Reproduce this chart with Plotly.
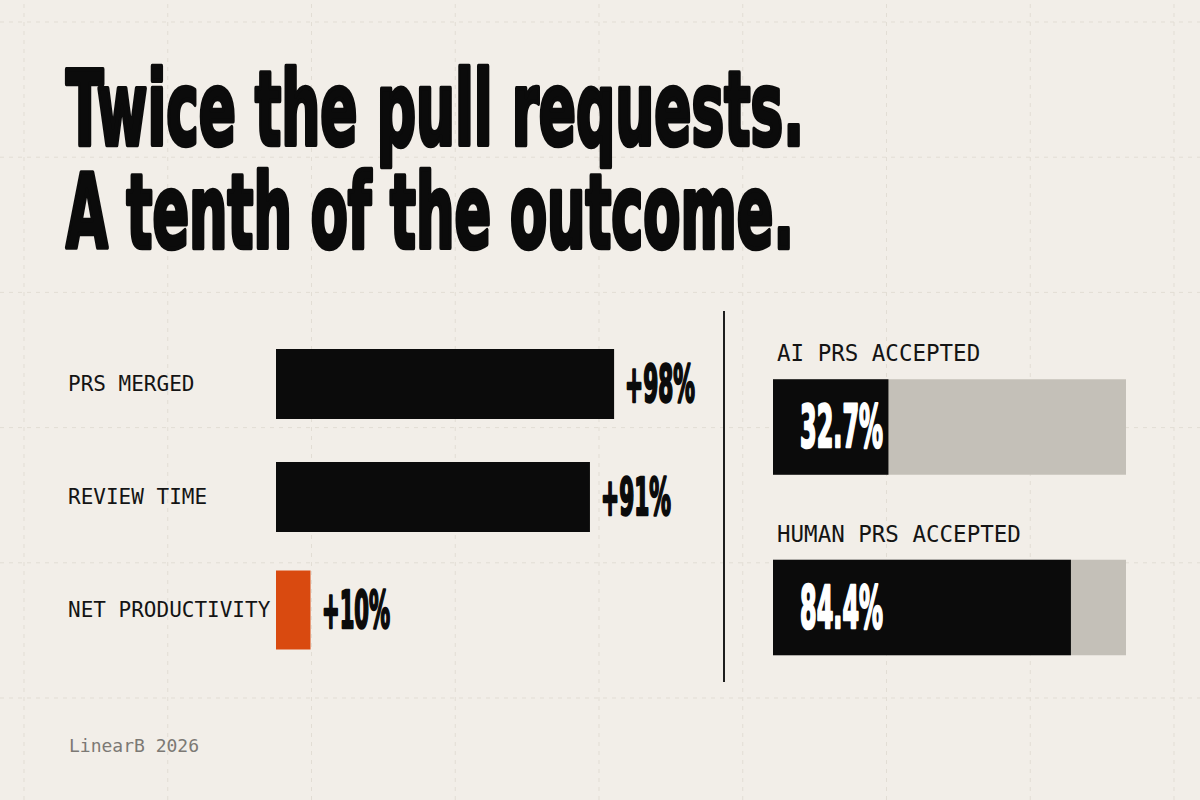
import json
import plotly.graph_objects as go

# ---------------- data ----------------
title_lines = ["Twice the pull requests.", "A tenth of the outcome."]

metrics = ["PRS MERGED", "REVIEW TIME", "NET PRODUCTIVITY"]
changes = [98, 91, 10]
change_labels = ["+98%", "+91%", "+10%"]
metric_colors = ["#0B0B0B", "#0B0B0B", "#D94A10"]

accept_groups = ["AI PRS ACCEPTED", "HUMAN PRS ACCEPTED"]
accept_rates = [32.7, 84.4]
accept_totals = [100, 100]
accept_labels = ["32.7%", "84.4%"]

source = "LinearB 2026"

# ---------------- style ----------------
W, H = 1200, 800
BG = "#F2EEE8"
INK = "#0B0B0B"
GREY = "#C4C0B8"
GRID = "#E2DDD4"
COND = "DejaVu Sans Condensed, DejaVu Sans, Liberation Sans, Arial"
MONO = "DejaVu Sans Mono, Liberation Mono, monospace"

TITLE_SIZE = 80
TITLE_YSCALE = 1.3
# condensed-display look: target advance widths (px)
title_widths = [738, 728]
title_centers = [118, 220]  # px from top
change_widths = [70, 70, 68]
accept_widths = [83, 83]


def px(x):
    return x / W


def py(y):
    return 1 - y / H


fig = go.Figure()

# left: change bars
fig.add_trace(go.Bar(
    x=changes, y=metrics, orientation="h",
    marker=dict(color=metric_colors, line=dict(width=0)),
    width=[0.62, 0.62, 0.70],
    xaxis="x", yaxis="y", hoverinfo="skip", showlegend=False,
))

# right: acceptance bars (track + value)
fig.add_trace(go.Bar(
    x=accept_totals, y=accept_groups, orientation="h",
    marker=dict(color=GREY, line=dict(width=0)), width=0.53,
    xaxis="x2", yaxis="y2", hoverinfo="skip", showlegend=False,
))
fig.add_trace(go.Bar(
    x=accept_rates, y=accept_groups, orientation="h",
    marker=dict(color=INK, line=dict(width=0)), width=0.53,
    xaxis="x2", yaxis="y2", hoverinfo="skip", showlegend=False,
))

ax_hidden = dict(visible=False, showgrid=False, zeroline=False, fixedrange=True)
fig.update_layout(
    width=W, height=H,
    margin=dict(l=0, r=0, t=0, b=0),
    paper_bgcolor=BG, plot_bgcolor="rgba(0,0,0,0)",
    barmode="overlay",
    xaxis=dict(domain=[px(276), px(676)], range=[0, 400 / 3.45], **ax_hidden),
    yaxis=dict(domain=[py(666.5), py(327.5)], type="category",
               categoryorder="array", categoryarray=metrics,
               range=[2.5, -0.5], **ax_hidden),
    xaxis2=dict(domain=[px(773), px(1126)], range=[0, 100], anchor="y2", **ax_hidden),
    yaxis2=dict(domain=[py(697.75), py(336.75)], type="category",
                categoryorder="array", categoryarray=accept_groups,
                range=[1.5, -0.5], anchor="x2", **ax_hidden),
)

shapes = []
# faint dashed background grid
for k in range(9):
    gx = 24 + 143.75 * k
    shapes.append(dict(type="line", xref="paper", yref="paper",
                       x0=px(gx), x1=px(gx), y0=0, y1=1,
                       line=dict(color=GRID, width=1, dash="4px,5px"), layer="below"))
for k in range(6):
    gy = 22 + 135.2 * k
    shapes.append(dict(type="line", xref="paper", yref="paper",
                       x0=0, x1=1, y0=py(gy), y1=py(gy),
                       line=dict(color=GRID, width=1, dash="4px,5px"), layer="below"))
# divider
shapes.append(dict(type="line", xref="paper", yref="paper",
                   x0=px(724), x1=px(724), y0=py(682), y1=py(311),
                   line=dict(color="#1E1E1E", width=2)))
fig.update_layout(shapes=shapes)

ann = []
squeeze = {}
# title
for i, line in enumerate(title_lines):
    ann.append(dict(text=line, xref="paper", yref="paper", align="left",
                    x=px(64), y=py(title_centers[i]), xanchor="left", yanchor="middle",
                    showarrow=False,
                    font=dict(family=COND, size=TITLE_SIZE, color=INK, weight=700)))
    squeeze[line] = [title_widths[i], 3.6, INK, TITLE_YSCALE]
# left labels + values
for m, v, lab, w in zip(metrics, changes, change_labels, change_widths):
    ann.append(dict(text=m, xref="paper", yref="y", x=px(66), y=m, align="left",
                    xanchor="left", yanchor="middle", showarrow=False,
                    font=dict(family=MONO, size=21, color="#141414")))
    ann.append(dict(text=lab, xref="x", yref="y", x=v, y=m, xshift=9, align="left",
                    xanchor="left", yanchor="middle", showarrow=False,
                    font=dict(family=COND, size=51, color=INK, weight=700)))
    squeeze[lab] = [w, 2.5, INK, 1]
# right labels + values
for g, lab, w in zip(accept_groups, accept_labels, accept_widths):
    ann.append(dict(text=g, xref="paper", yref="y2", x=px(775), y=g, yshift=74,
                    align="left", xanchor="left", yanchor="middle", showarrow=False,
                    font=dict(family=MONO, size=22.5, color="#141414")))
    ann.append(dict(text=lab, xref="x2", yref="y2", x=0, y=g, xshift=25, align="left",
                    xanchor="left", yanchor="middle", showarrow=False,
                    font=dict(family=COND, size=58, color="#FFFFFF", weight=700)))
    squeeze[lab] = [w, 2.5, "#FFFFFF", 1]
# source
ann.append(dict(text=source, xref="paper", yref="paper", x=px(67), y=py(745),
                align="left", xanchor="left", yanchor="middle", showarrow=False,
                font=dict(family=MONO, size=18, color="#7C7974")))
fig.update_layout(annotations=ann)

post_js = """
document.body.style.margin = '0';
document.body.style.overflow = 'hidden';
var gd = document.getElementById('{plot_id}');
var targets = __TARGETS__;
function squeezeText() {
  gd.querySelectorAll('text.annotation-text').forEach(function (t) {
    var spec = targets[t.textContent];
    if (!spec) return;
    t.setAttribute('textLength', spec[0]);
    t.setAttribute('lengthAdjust', 'spacingAndGlyphs');
    t.style.stroke = spec[2];
    t.style.strokeWidth = spec[1] + 'px';
    t.style.strokeLinejoin = 'round';
    if (spec[3] !== 1) {
      var x = parseFloat(t.getAttribute('x')) || 0;
      var y = parseFloat(t.getAttribute('y')) || 0;
      t.setAttribute('transform', 'translate(' + x + ',' + y + ') scale(1,' + spec[3] +
                     ') translate(' + (-x) + ',' + (-y) + ')');
    }
    var r = t.parentNode.querySelector('rect.bg');
    if (r) r.setAttribute('width', spec[0] + 2);
  });
}
squeezeText();
gd.on('plotly_afterplot', squeezeText);
""".replace("__TARGETS__", json.dumps(squeeze))

fig.write_html("out.html", post_script=post_js, config={"displayModeBar": False})
